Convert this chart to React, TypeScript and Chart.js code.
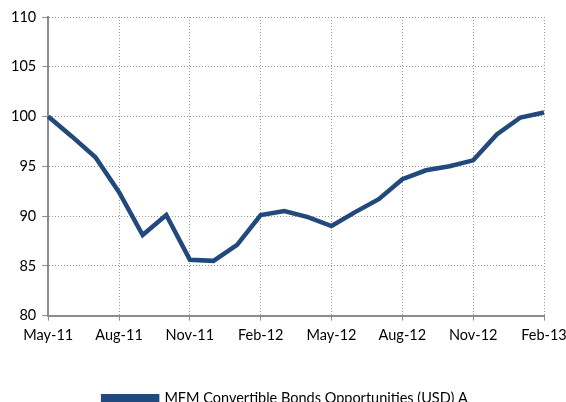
import React, { useEffect, useRef } from "react";
import { Chart, registerables } from "chart.js";

Chart.register(...registerables);

const months = [
  "May-11", "Jun-11", "Jul-11", "Aug-11", "Sep-11", "Oct-11", "Nov-11", "Dec-11",
  "Jan-12", "Feb-12", "Mar-12", "Apr-12", "May-12", "Jun-12", "Jul-12", "Aug-12",
  "Sep-12", "Oct-12", "Nov-12", "Dec-12", "Jan-13", "Feb-13",
];
const seriesName = "MFM Convertible Bonds Opportunities (USD) A";
const seriesValues = [
  100, 98, 95.9, 92.4, 88.1, 90.1, 85.6, 85.5, 87.1, 90.1, 90.5, 89.9,
  89.0, 90.4, 91.7, 93.7, 94.6, 95.0, 95.6, 98.2, 99.9, 100.4,
];
const yMin = 80;
const yMax = 110;
const yStep = 5;
const labelEvery = 3;

export default function App() {
  const ref = useRef<HTMLCanvasElement | null>(null);
  useEffect(() => {
    document.body.style.margin = "0";
    const ctx = ref.current!;
    const gridColor = "#9a9a9a";
    const axisColor = "#8c8c8c";
    const tickFont = { family: "Lato", size: 14.5 };
    const chart = new Chart(ctx, {
      type: "line",
      data: {
        labels: months,
        datasets: [
          {
            label: seriesName,
            data: seriesValues,
            borderColor: "#22497b",
            backgroundColor: "#22497b",
            borderWidth: 4.5,
            pointRadius: 0,
            tension: 0,
            borderJoinStyle: "miter",
          },
        ],
      },
      options: {
        responsive: false,
        animation: false,
        layout: { padding: { left: 5, right: 0, top: 17, bottom: -14 } },
        plugins: {
          legend: {
            position: "bottom",
            labels: {
              font: { family: "Lato", size: 14.5 },
              color: "#000",
              boxWidth: 54,
              boxHeight: 5,
              padding: 0,
            },
          },
          tooltip: { enabled: false },
        },
        scales: {
          x: {
            type: "category",
            offset: false,
            grid: {
              color: gridColor,
              tickColor: axisColor,
              tickLength: 5,
              lineWidth: 1,
            },
            border: { display: true, color: axisColor, width: 2, dash: [1, 2] },
            ticks: {
              autoSkip: false,
              maxRotation: 0,
              font: tickFont,
              color: "#000",
              padding: 6,
              callback: (_v: any, i: number) => (i % labelEvery === 0 ? months[i] : null),
            },
            afterFit: (scale: any) => {
              scale.height += 41.5;
              scale.paddingRight = 22;
            },
          },
          y: {
            min: yMin,
            max: yMax,
            ticks: { stepSize: yStep, font: tickFont, color: "#000", padding: 6 },
            grid: { color: gridColor, tickColor: axisColor, tickLength: 6 },
            border: { display: true, color: axisColor, width: 2, dash: [1, 2] },
          },
        },
      },
    } as any);
    return () => chart.destroy();
  }, []);
  return (
    <div style={{ width: 566, height: 402 }}>
      <canvas ref={ref} width={566} height={402} />
    </div>
  );
}
